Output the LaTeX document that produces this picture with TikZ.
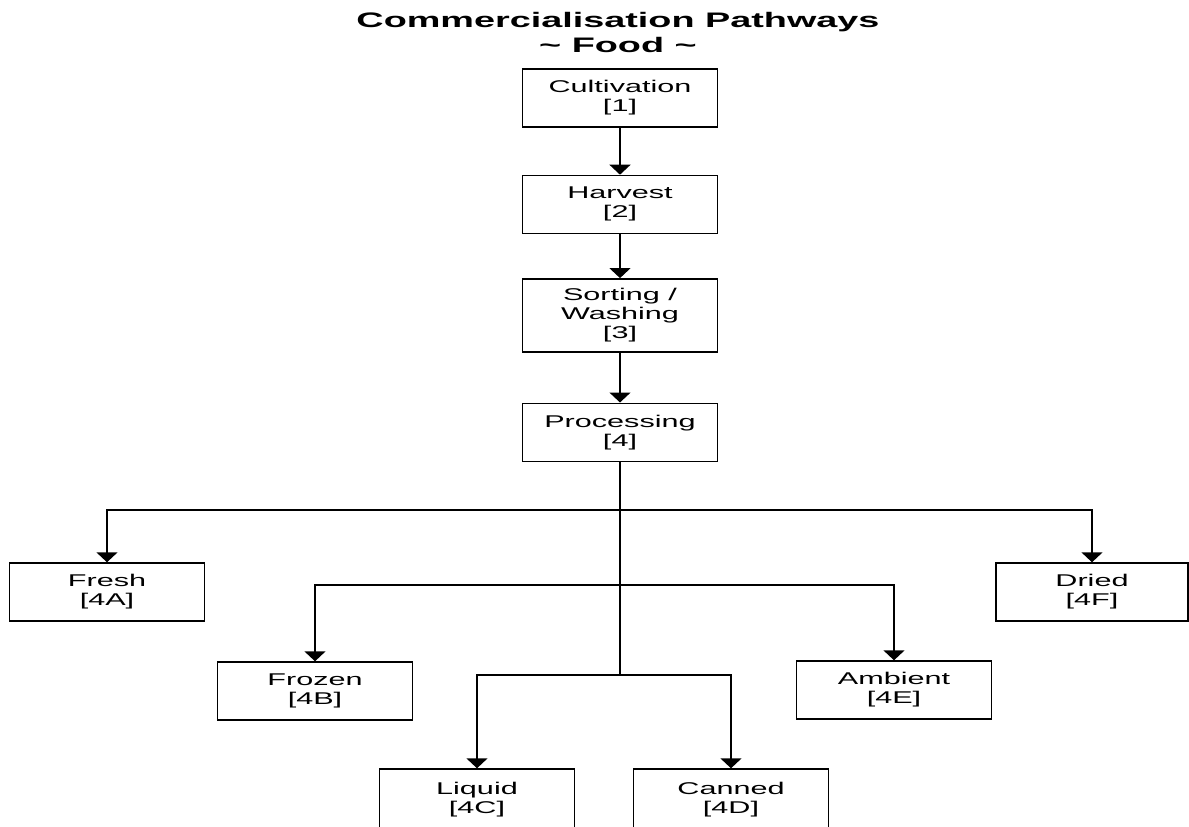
\documentclass[tikz,border=0pt]{standalone}
\usepackage{fontspec}
\newfontfamily\boxfont[FakeStretch=1.8]{Liberation Sans}
\usetikzlibrary{positioning}
\usetikzlibrary{arrows.meta}
\tikzset{	node distance=46pt,
	stage/.style={
		draw,
		line width=1.4pt,
		minimum width=195pt,
		minimum height=58pt,
		align=center,
		inner sep=2pt,
		font=\boxfont\fontsize{17}{19}\selectfont},
	link/.style={
		draw,
		line width=1.4pt,
		-{Triangle[width=21pt,length=10pt]}}
}

\begin{document}
\begin{tikzpicture}[x=1pt,y=-1pt]
				\clip (0,0) rectangle (1189,827);
				\node[font=\boxfont\bfseries\fontsize{21}{25}\selectfont, align=center] (title) at (618,32) {Commercialisation Pathways\\\textasciitilde{} Food \textasciitilde{}};
				\node[stage] (cult) at (620,98) {Cultivation\\{[1]}};
				\node[stage, below=47pt of cult] (harv) {Harvest\\{[2]}};
				\node[stage, minimum height=73pt, below=44pt of harv] (sort) {Sorting /\\Washing\\{[3]}};
				\node[stage, below=50pt of sort] (proc) {Processing\\{[4]}};
				\node[stage] (fresh) at (107,592) {Fresh\\{[4A]}};
				\node[stage, minimum width=192pt] (dried) at (1092,592) {Dried\\{[4F]}};
				\node[stage] (frozen) at (315,691) {Frozen\\{[4B]}};
				\node[stage] (amb) at (894,690) {Ambient\\{[4E]}};
				\node[stage, minimum height=62pt] (liq) at (477,800) {Liquid\\{[4C]}};
				\node[stage, minimum height=62pt] (can) at (731,800) {Canned\\{[4D]}};
				\coordinate (outer) at (proc.south |- 0,510);
				\coordinate (middle) at (proc.south |- 0,585);
				\coordinate (inner) at (proc.south |- 0,675);
				\draw[link] (cult) -- (harv);
				\draw[link] (harv) -- (sort);
				\draw[link] (sort) -- (proc);
				\draw[line width=1.4pt] (proc) -- (inner);
				\draw[link] (outer) -| (fresh);
				\draw[link] (outer) -| (dried);
				\draw[link] (middle) -| (frozen);
				\draw[link] (middle) -| (amb);
				\draw[link] (inner) -| (liq);
				\draw[link] (inner) -| (can);
			\end{tikzpicture}
\end{document}
